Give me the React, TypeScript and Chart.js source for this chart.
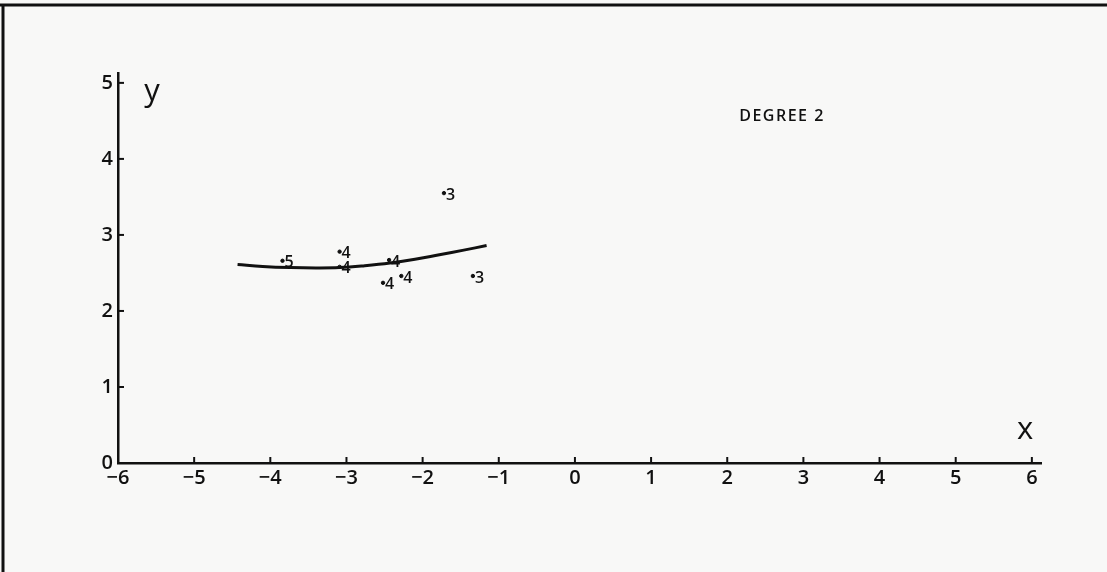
import React, { useEffect, useRef } from "react";
import { Chart, registerables } from "chart.js";

Chart.register(...registerables);

// Observed points (x, y) with their count labels
const pointX = [-3.84, -3.09, -3.09, -2.44, -2.52, -2.28, -1.34, -1.72];
const pointY = [2.66, 2.78, 2.58, 2.67, 2.37, 2.46, 2.46, 3.55];
const pointLabels = ["5", "4", "4", "4", "4", "4", "3", "3"];

// Fitted degree-2 curve
const curveX = [-4.43, -4.1, -3.74, -3.4, -3.09, -2.76, -2.43, -2.1, -1.78, -1.46, -1.16];
const curveY = [2.61, 2.585, 2.57, 2.565, 2.57, 2.595, 2.63, 2.68, 2.74, 2.8, 2.86];

const xTicks = [-6, -5, -4, -3, -2, -1, 0, 1, 2, 3, 4, 5, 6];
const yTicks = [0, 1, 2, 3, 4, 5];

const FONT = "'Open Sans', 'DejaVu Sans', sans-serif";

const decorPlugin = {
  id: "decor",
  beforeDraw(chart: any) {
    const { ctx, width, height } = chart;
    ctx.save();
    ctx.fillStyle = "#f8f8f7";
    ctx.fillRect(0, 0, width, height);
    ctx.strokeStyle = "#111";
    ctx.lineWidth = 3;
    ctx.beginPath();
    ctx.moveTo(0, 5);
    ctx.lineTo(width, 5);
    ctx.stroke();
    ctx.beginPath();
    ctx.moveTo(3, 5);
    ctx.lineTo(3, height);
    ctx.stroke();
    ctx.restore();
  },
  afterDraw(chart: any) {
    const { ctx } = chart;
    const xs = chart.scales.x;
    const ys = chart.scales.y;
    ctx.save();
    ctx.strokeStyle = "#111";
    ctx.lineWidth = 2;
    const x0 = xs.getPixelForValue(-6);
    const y0 = ys.getPixelForValue(0);
    xTicks.forEach((v) => {
      const px = xs.getPixelForValue(v);
      ctx.beginPath();
      ctx.moveTo(px, y0);
      ctx.lineTo(px, y0 - 6);
      ctx.stroke();
    });
    yTicks.forEach((v) => {
      const py = ys.getPixelForValue(v);
      ctx.beginPath();
      ctx.moveTo(x0, py);
      ctx.lineTo(x0 + 6, py);
      ctx.stroke();
    });
    // point labels
    const meta = chart.getDatasetMeta(1);
    ctx.fillStyle = "#111";
    ctx.font = `600 16px ${FONT}`;
    ctx.textBaseline = "middle";
    ctx.textAlign = "left";
    meta.data.forEach((el: any, i: number) => {
      ctx.fillText(pointLabels[i], el.x + 2, el.y + 2);
    });
    // axis letters
    ctx.font = `500 31px ${FONT}`;
    ctx.textAlign = "center";
    ctx.fillText("y", 152, 92);
    ctx.fillText("x", 1025, 430);
    // title
    ctx.font = `600 16px ${FONT}`;
    (ctx as any).letterSpacing = "1.5px";
    ctx.fillText("DEGREE 2", 782, 116);
    ctx.restore();
  },
};

export default function App() {
  const ref = useRef<HTMLCanvasElement>(null);
  useEffect(() => {
    document.body.style.margin = "0";
    const chart = new Chart(ref.current as HTMLCanvasElement, {
      type: "scatter",
      data: {
        datasets: [
          {
            type: "line",
            data: curveX.map((x, i) => ({ x, y: curveY[i] })),
            borderColor: "#111",
            borderWidth: 3,
            pointRadius: 0,
            tension: 0.4,
            fill: false,
          } as any,
          {
            data: pointX.map((x, i) => ({ x, y: pointY[i] })),
            backgroundColor: "#111",
            borderColor: "#111",
            pointRadius: 1.7,
          },
        ],
      },
      options: {
        animation: false,
        responsive: false,
        layout: { padding: { left: 0, top: 73, right: 66, bottom: 69 } },
        plugins: { legend: { display: false }, tooltip: { enabled: false } },
        scales: {
          x: {
            type: "linear",
            min: -6,
            max: 6.12,
            afterBuildTicks: (s: any) => {
              s.ticks = xTicks.map((v) => ({ value: v }));
            },
            afterFit: (s: any) => {
              s.height = 40;
            },
            grid: { display: false, drawTicks: false },
            border: { display: true, color: "#111", width: 2.5 },
            ticks: {
              padding: 3,
              color: "#111",
              font: { family: FONT, size: 20, weight: "600" },
              callback: (v: any) => String(v).replace("-", "\u2212"),
            },
          },
          y: {
            type: "linear",
            min: 0,
            max: 5.13,
            afterBuildTicks: (s: any) => {
              s.ticks = yTicks.map((v) => ({ value: v }));
            },
            afterFit: (s: any) => {
              s.width = 118;
            },
            grid: { display: false, drawTicks: false },
            border: { display: true, color: "#111", width: 2.5 },
            ticks: {
              padding: 5,
              color: "#111",
              font: { family: FONT, size: 20, weight: "600" },
            },
          },
        },
      },
      plugins: [decorPlugin],
    });
    return () => chart.destroy();
  }, []);
  return <canvas ref={ref} width={1107} height={572} />;
}
